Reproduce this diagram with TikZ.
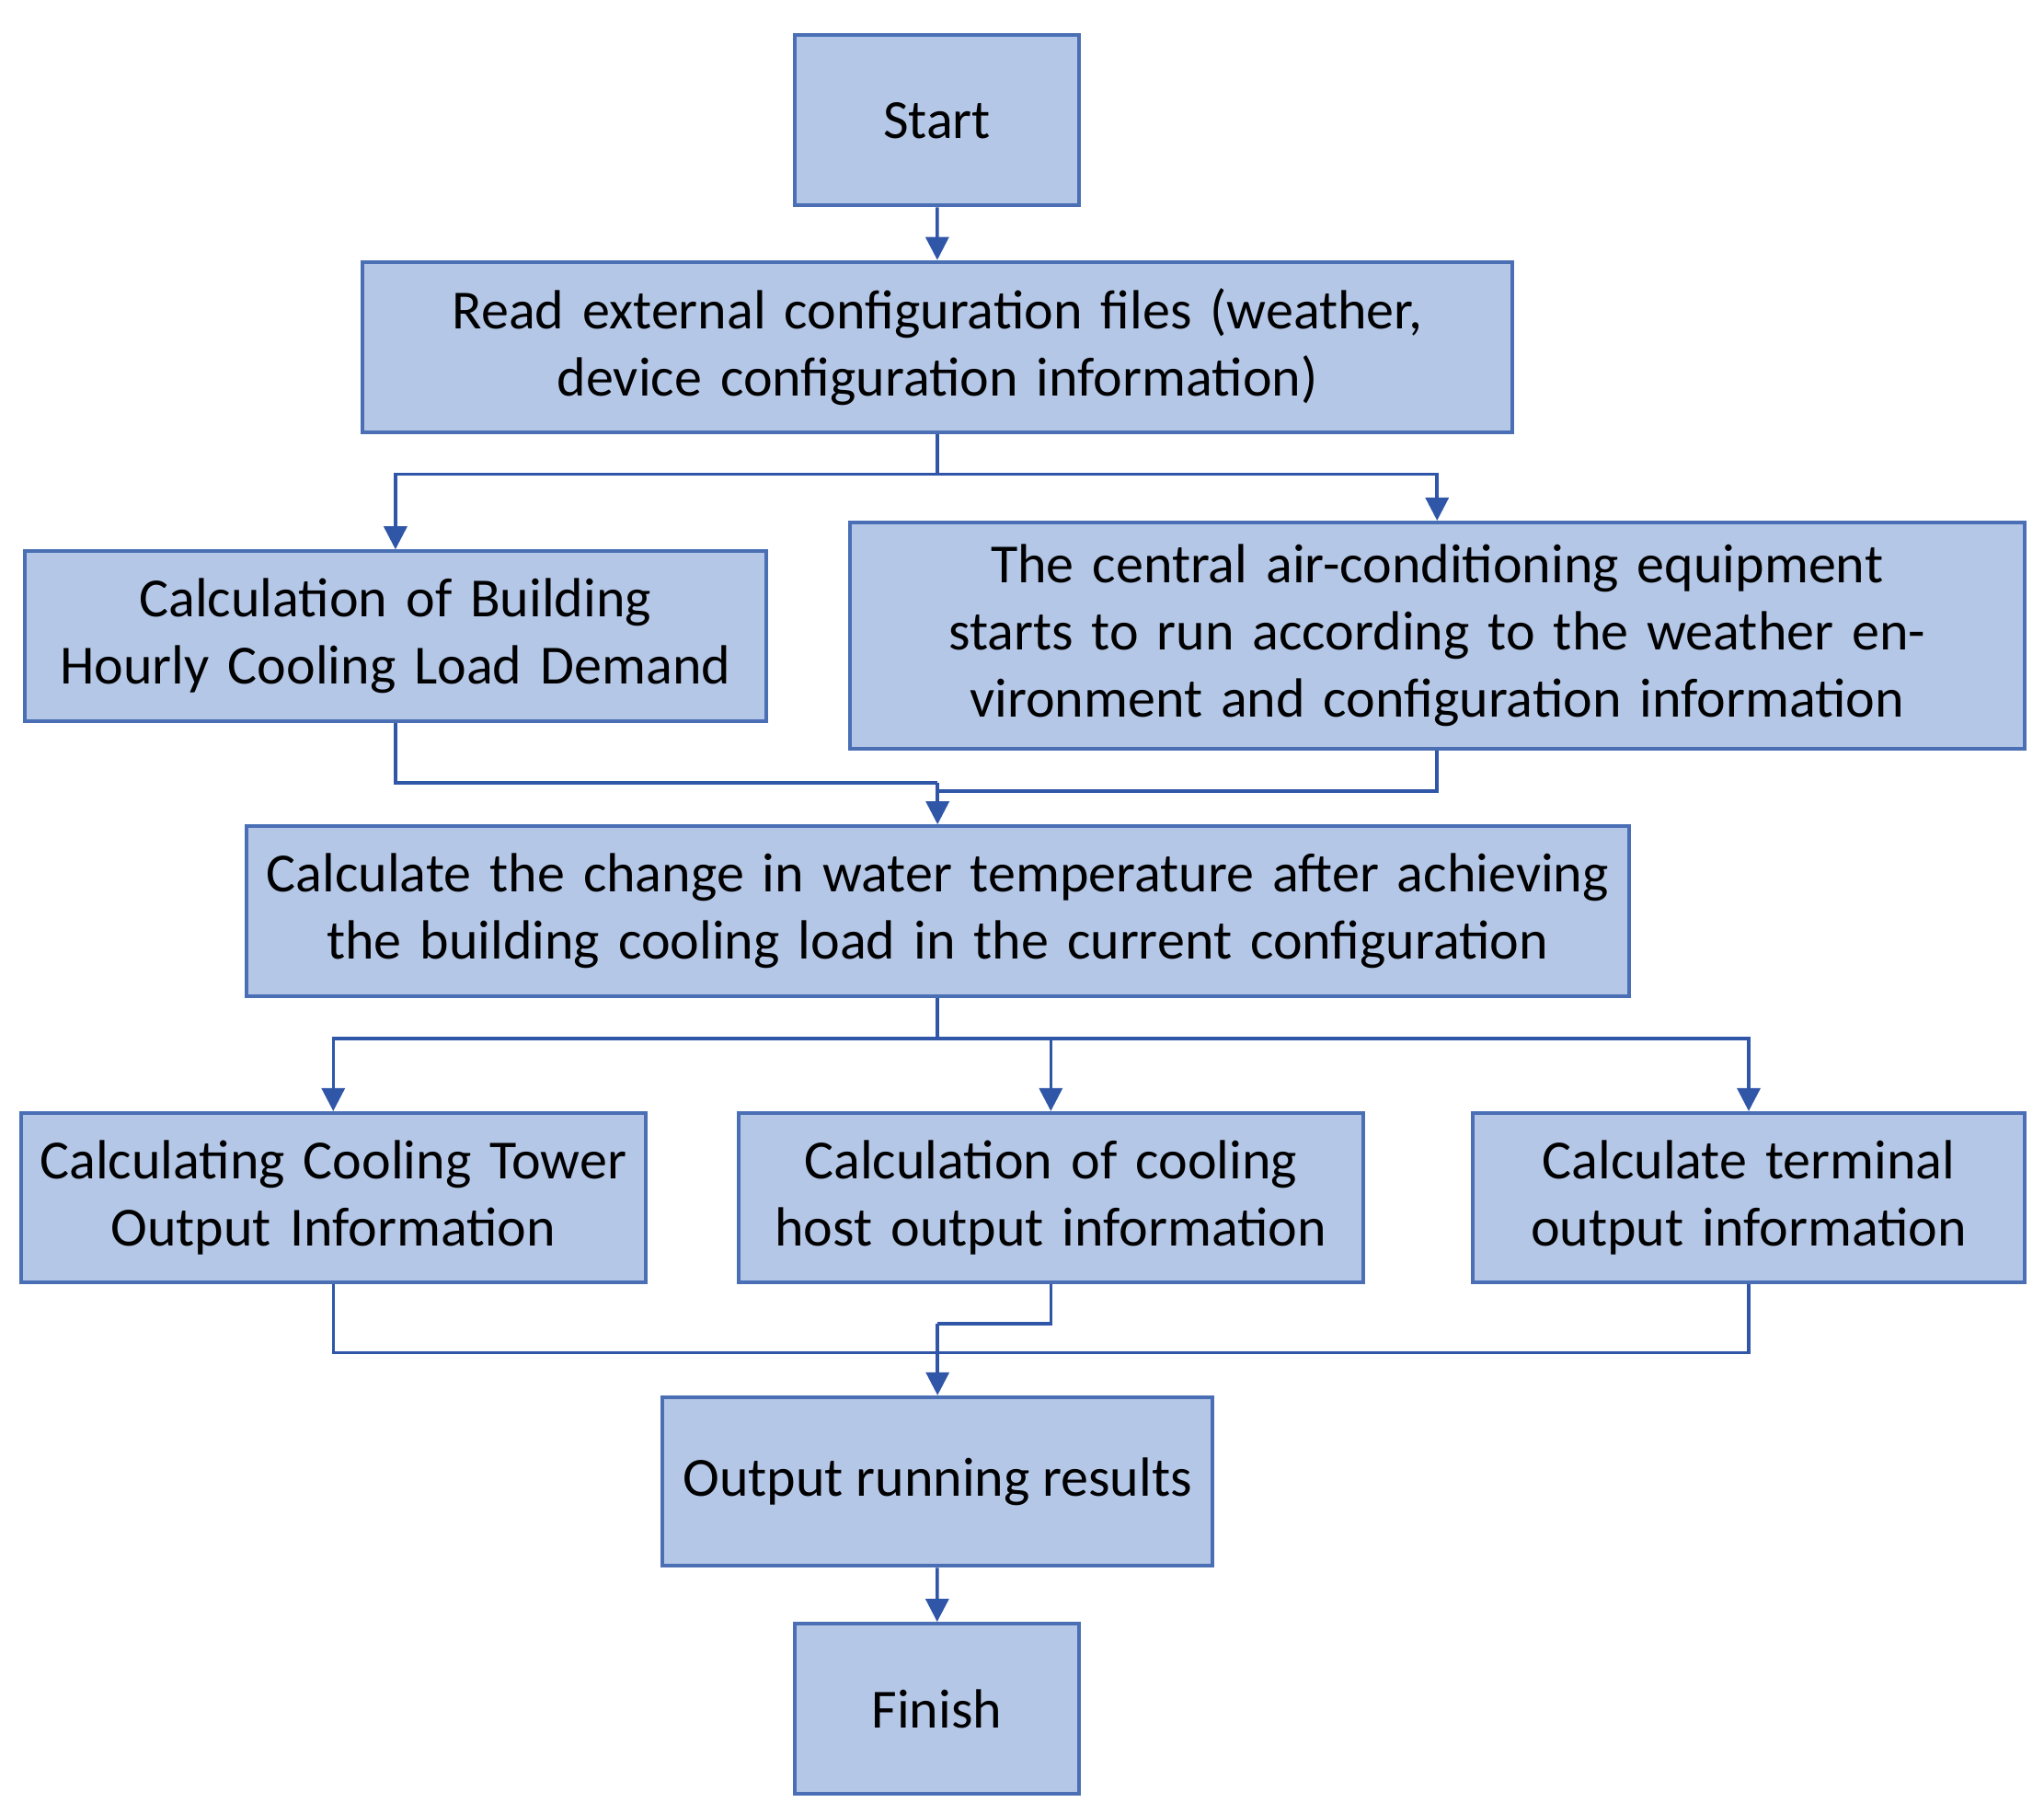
\documentclass[tikz,border=0pt]{standalone}
\usepackage{fontspec}
\setmainfont{Carlito}
\usetikzlibrary{arrows.meta}
\definecolor{boxfill}{HTML}{B4C7E7}
\definecolor{boxline}{HTML}{4A6FB5}
\definecolor{flowline}{HTML}{3056A8}
\tikzset{
	stage/.style={rectangle, draw=boxline, fill=boxfill, line width=0.8pt, align=center, inner sep=1pt,
		font=\fontsize{12}{14.6}\selectfont},
	flow/.style={draw=flowline, line width=0.7pt},
	arr/.style={flow, -{Triangle[length=5pt,width=5pt]}}
}
\begin{document}
\begin{tikzpicture}
	\useasboundingbox (0,0) rectangle (15.61,-13.847);
	
	\node (start) at (7.155,-0.92) [stage, minimum width=2.17cm, minimum height=1.30cm]{Start};
	\node (read) at (7.16,-2.65) [stage, minimum width=8.78cm, minimum height=1.30cm, text width=8.7cm]{Read external configuration files (weather, device configuration information)};
	\node (bld) at (3.02,-4.86) [stage, minimum width=5.66cm, minimum height=1.30cm, text width=5.5cm]{Calculation of Building Hourly Cooling Load Demand};
	\node (central) at (10.975,-4.855) [stage, minimum width=8.97cm, minimum height=1.73cm, text width=8.8cm]{The central air-conditioning equipment starts to run according to the weather environment and configuration information};
	\node (change) at (7.16,-6.96) [stage, minimum width=10.56cm, minimum height=1.30cm, text width=10.4cm]{Calculate the change in water temperature after achieving the building cooling load in the current configuration};
	\node (tower) at (2.545,-9.145) [stage, minimum width=4.73cm, minimum height=1.29cm, text width=4.7cm]{Calculating Cooling Tower Output Information};
	\node (host) at (8.025,-9.145) [stage, minimum width=4.73cm, minimum height=1.29cm, text width=4.7cm]{Calculation of cooling host output information};
	\node (term) at (13.355,-9.145) [stage, minimum width=4.21cm, minimum height=1.29cm, text width=4.1cm]{Calculate terminal output information};
	\node (out) at (7.16,-11.315) [stage, minimum width=4.20cm, minimum height=1.29cm]{Output running results};
	\node (finish) at (7.155,-13.05) [stage, minimum width=2.17cm, minimum height=1.30cm]{Finish};
	
	\coordinate (j1) at (7.16,-3.62);
	\coordinate (j2) at (7.16,-5.98);
	\coordinate (j3) at (7.16,-6.04);
	\coordinate (j4) at (7.16,-7.93);
	\coordinate (j5) at (7.16,-10.11);
	\coordinate (j6) at (7.16,-10.33);
	
	\draw[arr] (start) -- (read);
	\draw[flow] (read.south) -- (j1);
	\draw[arr] (j1) -| (bld.north);
	\draw[arr] (j1) -| (central.north);
	\draw[flow] (bld.south) |- (j2);
	\draw[flow] (central.south) |- (j3);
	\draw[arr] (j2) -- (change.north);
	\draw[flow] (change.south) -- (j4);
	\draw[arr] (j4) -| (tower.north);
	\draw[arr] (j4) -| (host.north);
	\draw[arr] (j4) -| (term.north);
	\draw[flow] (host.south) |- (j5);
	\draw[flow] (tower.south) |- (j6);
	\draw[flow] (term.south) |- (j6);
	\draw[arr] (j5) -- (out.north);
	\draw[arr] (out) -- (finish);
	
\end{tikzpicture}
\end{document}
